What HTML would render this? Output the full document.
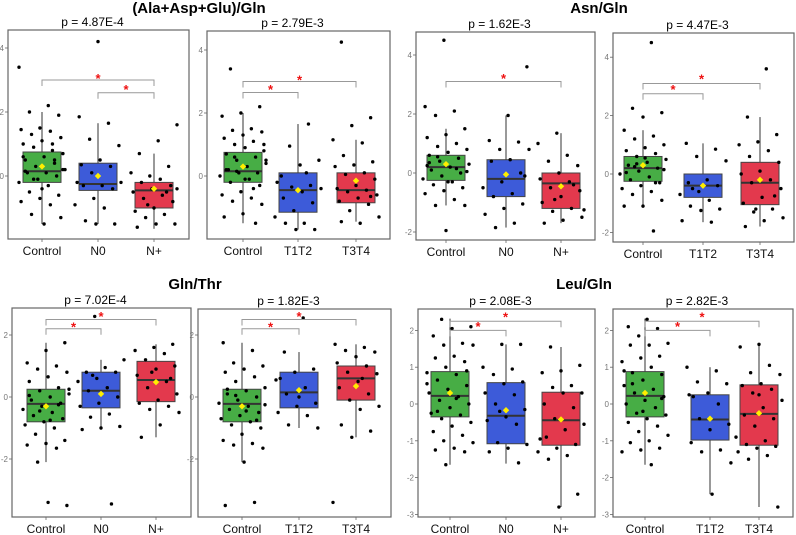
<!DOCTYPE html>
<html><head><meta charset="utf-8">
<style>
html,body{margin:0;padding:0;background:#fff;}
svg{display:block;font-family:"Liberation Sans",Arial,sans-serif;}
</style></head>
<body>
<svg id="fig" width="796" height="535" viewBox="0 0 796 535" xmlns="http://www.w3.org/2000/svg">
<text x="199" y="13" text-anchor="middle" font-size="15" font-weight="bold">(Ala+Asp+Glu)/Gln</text>
<text x="599" y="13" text-anchor="middle" font-size="15" font-weight="bold">Asn/Gln</text>
<text x="195" y="289" text-anchor="middle" font-size="15" font-weight="bold">Gln/Thr</text>
<text x="584" y="289" text-anchor="middle" font-size="15" font-weight="bold">Leu/Gln</text>
</svg>
<script>
// ---- data ----
const catsN = ["Control","N0","N+"];
const catsT = ["Control","T1T2","T3T4"];
const pValues = ["p = 4.87E-4","p = 2.79E-3","p = 1.62E-3","p = 4.47E-3","p = 7.02E-4","p = 1.82E-3","p = 2.08E-3","p = 2.82E-3"];
const ticks1 = [0,2,4];
const ticks2 = [-2,0,2,4];
const ticks3 = [-2,0,2];
const ticks4 = [-3,-2,-1,0,1,2];
// box stats: [lo, q1, median, q3, hi, mean]
const box1 = [[-1.5,-0.2,0.15,0.75,2.0,0.3],[-1.5,-0.45,-0.25,0.4,1.65,0.0],[-1.65,-1.0,-0.45,-0.2,0.7,-0.4]];
const box2 = [[-1.5,-0.2,0.15,0.75,2.0,0.3],[-1.7,-1.15,-0.45,0.1,1.65,-0.45],[-1.45,-0.85,-0.45,0.1,1.15,-0.15]];
const box3 = [[-1.1,-0.25,0.2,0.6,1.5,0.3],[-1.85,-0.8,-0.2,0.45,1.95,-0.05],[-1.7,-1.2,-0.35,0.0,1.35,-0.45]];
const box4 = [[-1.1,-0.25,0.2,0.6,1.5,0.3],[-1.65,-0.8,-0.4,0.0,1.05,-0.4],[-1.8,-1.05,-0.3,0.4,1.95,-0.2]];
const box5 = [[-2.1,-0.8,-0.22,0.25,1.75,-0.3],[-1.05,-0.35,0.2,0.8,1.2,0.1],[-1.3,-0.15,0.55,1.15,1.7,0.48]];
const box6 = [[-2.1,-0.8,-0.22,0.25,1.75,-0.3],[-1.0,-0.35,0.15,0.8,1.45,0.22],[-1.3,-0.1,0.6,1.0,1.7,0.35]];
const box7 = [[-1.65,-0.35,0.22,0.88,2.32,0.3],[-1.62,-1.08,-0.32,0.58,1.62,-0.17],[-2.8,-1.12,-0.44,0.32,1.55,-0.42]];
const box8 = [[-1.65,-0.35,0.22,0.88,2.32,0.3],[-2.45,-0.98,-0.42,0.25,1.0,-0.4],[-2.8,-1.12,-0.27,0.52,1.62,-0.25]];
// points
const ctrl1 = [3.4,2.2,2.0,1.9,1.5,1.45,1.4,1.3,1.2,1.1,1.0,1.0,0.9,0.7,0.6,0.5,0.4,0.3,0.2,0.1,0.1,0.0,-0.1,-0.2,-0.3,-0.5,-0.6,-0.7,-0.8,-0.9,-1.2,-1.3,-0.4,0.6,0.8,-0.1,0.2,-1.5,0.15,0.5];
const n0_1 = [4.2,1.85,1.65,1.15,0.95,0.5,0.35,0.3,0.1,-0.2,-0.3,-0.3,-0.4,-0.7,-0.9,-1.0,-1.4,-1.5,-1.5,-0.2];
const np_1 = [1.6,1.1,0.7,0.3,0.0,0.1,-0.1,-0.2,-0.3,-0.4,-0.5,-0.6,-0.7,-0.8,-1.0,-1.1,-1.2,-1.3,-1.5,-1.5,-1.6,-0.5,-0.9,-0.4];
const t12_2 = [1.65,0.95,0.5,0.35,0.0,-0.3,-0.35,-0.4,-0.5,-0.7,-0.85,-1.1,-1.3,-1.5,-1.5,-1.7,-1.7,-0.2,0.1];
const t34_2 = [4.25,1.85,1.6,1.15,1.05,0.65,0.45,0.35,0.3,0.1,0.05,-0.1,-0.3,-0.4,-0.45,-0.5,-0.6,-0.7,-0.8,-0.9,-1.1,-1.3,-1.5,-1.45,-0.65];
const ctrl3 = [4.5,2.25,2.1,1.95,1.5,1.3,1.2,1.0,0.9,0.8,0.7,0.6,0.5,0.4,0.3,0.2,0.1,0.0,-0.1,-0.2,-0.3,-0.4,-0.5,-0.6,-0.7,-0.9,-1.1,-1.1,-1.95,0.25,0.15,0.55,0.05,-0.3,0.35];
const n0_3 = [3.6,1.95,1.1,1.05,0.8,0.8,0.45,0.4,0.0,-0.3,-0.5,-0.7,-0.8,-1.05,-1.2,-1.4,-1.7,-1.85,-0.1];
const np_3 = [1.35,1.0,0.6,0.4,0.25,0.0,-0.2,-0.3,-0.5,-0.6,-0.8,-1.0,-1.2,-1.3,-1.5,-1.6,-1.7,-0.4,-0.9,-1.25];
const t12_4 = [1.05,0.85,0.6,0.45,-0.2,-0.3,-0.4,-0.6,-0.7,-0.9,-1.1,-1.2,-1.25,-1.6,-1.65,-0.5];
const t34_4 = [3.6,1.95,1.35,1.1,1.0,0.8,0.6,0.4,0.1,0.0,-0.2,-0.3,-0.5,-0.8,-1.0,-1.2,-1.3,-1.5,-1.6,-1.8,-0.75,-1.2];
const ctrl5 = [1.75,1.5,1.1,1.0,0.9,0.8,0.65,0.5,0.3,0.2,0.1,0.0,-0.1,-0.2,-0.3,-0.4,-0.5,-0.6,-0.7,-0.8,-0.9,-1.0,-1.2,-1.4,-1.5,-1.55,-1.65,-2.1,-3.5,-3.4,0.05,-0.25,-0.45,0.25,-0.75];
const n0_5 = [2.6,1.2,0.95,0.8,0.8,0.6,0.5,0.3,0.2,0.0,-0.2,-0.3,-0.55,-0.65,-0.95,-1.0,-1.05,-3.45,0.7];
const np_5 = [1.7,1.6,1.5,1.4,1.2,1.0,0.9,0.7,0.5,0.3,0.1,-0.1,-0.2,-0.3,-0.4,-0.5,-0.9,-1.3,0.6,0.8];
const t12_6 = [2.55,1.45,0.9,0.8,0.55,0.3,0.1,-0.2,-0.3,-0.5,-0.6,-0.9,-1.0,0.0,0.6];
const t34_6 = [1.7,1.6,1.5,1.45,1.3,1.1,1.0,0.8,0.75,0.5,0.3,0.1,-0.1,-0.3,-0.4,-0.9,-1.1,-1.3,-3.4,0.6];
const ctrl7 = [2.3,2.1,2.05,1.85,1.65,1.6,1.6,1.3,1.25,1.15,1.0,0.85,0.8,0.65,0.5,0.4,0.3,0.2,0.1,0.0,-0.1,-0.25,-0.3,-0.4,-0.5,-0.6,-0.75,-0.85,-1.0,-1.05,-1.2,-1.25,-1.3,-1.65,0.55,0.15,-0.2,0.9];
const n0_7 = [1.62,1.62,1.0,0.95,0.8,0.6,0.55,0.3,0.25,0.0,-0.15,-0.35,-0.45,-0.55,-1.05,-1.1,-1.2,-1.3,-1.6,-0.2];
const np_7 = [1.55,1.05,0.9,0.85,0.5,0.45,0.3,0.3,0.0,-0.1,-0.4,-0.55,-0.7,-0.9,-1.1,-1.2,-1.3,-1.4,-1.5,-2.45,-2.8,-0.95];
const t12_8 = [1.0,0.9,0.6,0.55,0.3,0.25,0.0,-0.4,-0.55,-0.7,-1.05,-1.25,-1.3,-1.6,-2.45,0.2];
const t34_8 = [1.62,1.55,1.05,0.85,0.8,0.55,0.5,0.4,0.3,0.1,-0.1,-0.3,-0.4,-0.6,-0.9,-1.0,-1.1,-1.15,-1.2,-1.3,-1.4,-1.5,-2.8,0.25];
// brackets: [fromGroup, toGroup, bracketY, starY]
const br1 = [[0,2,3.0,3.1],[1,2,2.6,2.75]];
const br2 = [[0,1,2.65,2.8],[0,2,3.0,3.1]];
const br3 = [[0,2,3.1,3.25]];
const br4 = [[0,1,2.75,2.95],[0,2,3.1,3.3]];
const br5 = [[0,1,2.2,2.3],[0,2,2.5,2.65]];
const br6 = [[0,1,2.2,2.3],[0,2,2.5,2.65]];
const br7 = [[0,1,2.0,2.15],[0,2,2.25,2.4]];
const br8 = [[0,1,2.0,2.15],[0,2,2.25,2.4]];

// ---- layout ----
const NS = "http://www.w3.org/2000/svg";
const svg = document.getElementById('fig');
const colors = ["#47ad45","#3d5bd9","#e3394d"];
const panels = [
 {x0:8,x1:189,y0:30,y1:239,zero:176,scale:32,cx:[42,98,154],cats:catsN,ticks:ticks1,box:box1,pts:[ctrl1,n0_1,np_1],br:br1},
 {x0:207,x1:390,y0:31,y1:239,zero:176,scale:31.5,cx:[243,298,356],cats:catsT,ticks:ticks1,box:box2,pts:[ctrl1,t12_2,t34_2],br:br2},
 {x0:416,x1:595,y0:32,y1:240,zero:173,scale:29.5,cx:[446,506,561],cats:catsN,ticks:ticks2,box:box3,pts:[ctrl3,n0_3,np_3],br:br3},
 {x0:613,x1:794,y0:33,y1:242,zero:174,scale:29.2,cx:[643,703,760],cats:catsT,ticks:ticks2,box:box4,pts:[ctrl3,t12_4,t34_4],br:br4},
 {x0:12,x1:191,y0:308,y1:517,zero:397,scale:31,cx:[46,101,156],cats:catsN,ticks:ticks3,box:box5,pts:[ctrl5,n0_5,np_5],br:br5},
 {x0:198,x1:391,y0:309,y1:517,zero:397,scale:31,cx:[242,299,356],cats:catsT,ticks:ticks3,box:box6,pts:[ctrl5,t12_6,t34_6],br:br6},
 {x0:418,x1:595,y0:309,y1:517,zero:404,scale:36.8,cx:[450,506,561],cats:catsN,ticks:ticks4,box:box7,pts:[ctrl7,n0_7,np_7],br:br7},
 {x0:613,x1:793,y0:309,y1:517,zero:404,scale:36.8,cx:[645,710,759],cats:catsT,ticks:ticks4,box:box8,pts:[ctrl7,t12_8,t34_8],br:br8}
];
function mk(tag, attrs, parent){
  const e = document.createElementNS(NS, tag);
  for (const k in attrs) e.setAttribute(k, attrs[k]);
  (parent||svg).appendChild(e);
  return e;
}
panels.forEach((p, pi) => {
  const Y = v => p.zero - v * p.scale;
  const g = mk('g', {});
  
  
  const pt = mk('text', {x:(p.x0+p.x1)/2 - 6, y:p.y0-4, 'text-anchor':'middle', 'font-size':12}, g);
  pt.textContent = pValues[pi];
  
  
  const fr = mk('rect', {x:p.x0, y:p.y0, width:p.x1-p.x0, height:p.y1-p.y0, fill:'none', stroke:'#666', 'stroke-width':1.2}, g);
  
  
  p.ticks.forEach(t => {
    const ty = Y(t);
    mk('line', {x1:p.x0-3, x2:p.x0, y1:ty, y2:ty, stroke:'#666', 'stroke-width':0.8}, g);
    const tl = mk('text', {x:p.x0-4, y:ty+3, 'text-anchor':'end', 'font-size':8, fill:'#777'}, g);
    tl.textContent = t;
    
    
  });
  p.cats.forEach((c, ci) => {
    const x = p.cx[ci];
    mk('line', {x1:x, x2:x, y1:p.y1, y2:p.y1+3, stroke:'#666', 'stroke-width':0.8}, g);
    const cl = mk('text', {x:x, y:p.y1+16, 'text-anchor':'middle', 'font-size':12, fill:'#111'}, g);
    cl.textContent = c;
    
    
    const b = p.box[ci];
    const hw = 19;
    mk('line', {x1:x, x2:x, y1:Y(b[0]), y2:Y(b[4]), stroke:'#555', 'stroke-width':1.2}, g);
    const br = mk('rect', {x:x-hw, y:Y(b[3]), width:2*hw, height:Y(b[1])-Y(b[3]), fill:colors[ci], stroke:'#444', 'stroke-width':1}, g);
    
    
    mk('line', {x1:x-hw, x2:x+hw, y1:Y(b[2]), y2:Y(b[2]), stroke:'#333', 'stroke-width':2}, g);
    p.pts[ci].forEach((v, i) => {
      const jit = (((i * 37 + ci * 11 + pi * 5) % 23) / 22 - 0.5) * 2 * (hw + 4);
      const d = mk('circle', {cx:x + jit, cy:Y(v), r:1.7, fill:'#000'}, g);
      
      
    });
    const my = Y(b[5]);
    const mn = mk('polygon', {points:`${x},${my-3.2} ${x+3.2},${my} ${x},${my+3.2} ${x-3.2},${my}`, fill:'#ffee00'}, g);
    
    
  });
  p.br.forEach(r => {
    const xa = p.cx[r[0]], xb = p.cx[r[1]], by = Y(r[2]);
    const bl = mk('path', {d:`M${xa},${by+6} V${by} H${xb} V${by+6}`, fill:'none', stroke:'#999', 'stroke-width':1}, g);
    
    
    const st = mk('text', {x:(xa+xb)/2, y:Y(r[3])+6, 'text-anchor':'middle', 'font-size':13, 'font-weight':'bold', fill:'#ee1111'}, g);
    st.textContent = '*';
    
    
  });
});
</script>
</body></html>
